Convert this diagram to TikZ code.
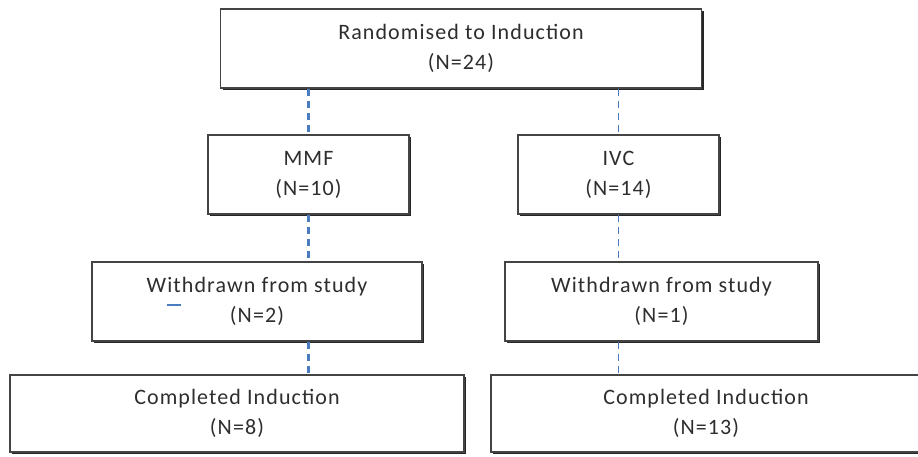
\documentclass[tikz,border=0pt]{standalone}
\usepackage{fontspec}
\setmainfont[LetterSpace=5]{Carlito}
\usetikzlibrary{shadows}
\definecolor{txt}{HTML}{2E2E2E}
\definecolor{edge}{HTML}{444444}
\definecolor{lineblue}{HTML}{4A7CC0}
\tikzset{
  box/.style={draw=edge, line width=1.2pt, fill=white, align=center, text=txt,
    font=\fontsize{22}{30}\selectfont, inner sep=0pt,
    drop shadow={shadow xshift=2.2pt, shadow yshift=-2.2pt, opacity=1, fill=black!85}},
  conn/.style={draw=lineblue, dash pattern=on 7pt off 5pt},
}
\begin{document}
\begin{tikzpicture}[x=1pt,y=-1pt]
\useasboundingbox (0,0) rectangle (918,457);
\node[box, minimum width=481pt, minimum height=79pt] (top) at (461,48.5) {Randomised to Induction\\(N=24)};
\node[box, minimum width=201pt, minimum height=79pt] (mmf) at (308.5,174.5) {MMF\\(N=10)};
\node[box, minimum width=201pt, minimum height=79pt] (ivc) at (618.5,174.5) {IVC\\(N=14)};
\node[box, minimum width=330pt, minimum height=79pt] (wl) at (257,301.5) {Withdrawn from study\\(N=2)};
\node[box, minimum width=313pt, minimum height=79pt] (wr) at (661.5,301.5) {Withdrawn from study\\(N=1)};
\node[box, minimum width=454pt, minimum height=77pt] (cl) at (237,413.5) {Completed Induction\\(N=8)};
\node[box, minimum width=430pt, minimum height=77pt] (cr) at (706,413.5) {Completed Induction\\(N=13)};
\draw[conn, line width=2.2pt] (top.south -| mmf.north) -- (mmf.north);
\draw[conn, line width=2.2pt] (mmf.south) -- (mmf.south |- wl.north);
\draw[conn, line width=2.2pt] (mmf.south |- wl.south) -- (mmf.south |- cl.north);
\draw[conn, line width=1.2pt] (top.south -| ivc.north) -- (ivc.north);
\draw[conn, line width=1.2pt] (ivc.south) -- (ivc.south |- wr.north);
\draw[conn, line width=1.2pt] (ivc.south |- wr.south) -- (ivc.south |- cr.north);
\draw[lineblue, line width=1.2pt] (167,305) -- (181,305);
\end{tikzpicture}
\end{document}
